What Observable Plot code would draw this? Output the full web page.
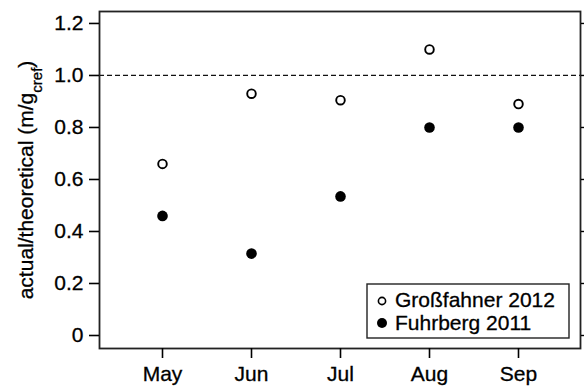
<!DOCTYPE html>
<html><head><meta charset="utf-8">
<script src="https://cdn.jsdelivr.net/npm/d3@7"></script>
<script src="https://cdn.jsdelivr.net/npm/@observablehq/plot@0.6"></script>
<style>body{margin:0;background:#fff}</style>
</head><body><div id="chart"></div>
<script>
const months = ["May","Jun","Jul","Aug","Sep"];
const grossfahner = [0.66, 0.93, 0.905, 1.10, 0.89];
const fuhrberg = [0.46, 0.315, 0.535, 0.80, 0.80];
const yTicks = [0, 0.2, 0.4, 0.6, 0.8, 1.0, 1.2];
const refLine = [1.0];
const seriesNames = ["Großfahner 2012", "Fuhrberg 2011"];

const data = [
  ...months.map((m,i)=>({month:m, v:grossfahner[i], s:seriesNames[0]})),
  ...months.map((m,i)=>({month:m, v:fuhrberg[i], s:seriesNames[1]}))
];
const font = "Liberation Sans, Arial, Helvetica, sans-serif";
const plot = Plot.plot({
  width: 584, height: 388,
  marginLeft: 99, marginRight: 4, marginTop: 11, marginBottom: 40,
  style: {fontFamily: font, fontSize: "21px", color: "#000", background: "#fff"},
  x: {type: "point", domain: months, padding: 0.7, label: null},
  y: {domain: [-0.05, 1.246], label: null},
  marks: [
    Plot.ruleY(refLine, {stroke: "#111", strokeWidth: 1.3, strokeDasharray: "5,3"}),
    Plot.frame({stroke: "#222", strokeWidth: 1.8}),
    Plot.axisY(yTicks, {anchor: "left", tickSize: 10, tickPadding: 6, strokeWidth: 1.6, fontSize: 21,
      tickFormat: d => d === 0 ? "0" : d.toFixed(1)}),
    Plot.axisY(yTicks, {anchor: "right", tickSize: 4, tickFormat: () => "", strokeWidth: 1.4}),
    Plot.axisX(months, {anchor: "bottom", tickSize: 10, tickPadding: 8, strokeWidth: 1.6, fontSize: 21}),
    Plot.dot(data.filter(d=>d.s===seriesNames[1]), {x:"month", y:"v", r:5.3, fill:"#000", stroke:"none"}),
    Plot.dot(data.filter(d=>d.s===seriesNames[0]), {x:"month", y:"v", r:4.3, fill:"#fff", stroke:"#000", strokeWidth:1.9})
  ]
});
document.getElementById("chart").appendChild(plot);

const svg = d3.select(plot);
svg.selectAll('g[aria-label$="tick label"] text')
  .attr("font-size", 21).style("font-size", "21px").attr("fill", "#000")
  .attr("stroke", "#000").attr("stroke-width", 0.3);

// y-axis label with subscript
const lab = svg.append("text")
  .attr("transform", "translate(33,180) rotate(-90)")
  .attr("text-anchor", "middle")
  .style("font-family", font).style("font-size", "21px").attr("fill", "#000")
  .attr("stroke", "#000").attr("stroke-width", 0.3);
lab.append("tspan").text("actual/theoretical (m/g");
lab.append("tspan").attr("baseline-shift", "sub").style("font-size", "15px").text("cref");
lab.append("tspan").text(")");

// legend
const lg = svg.append("g").style("font-family", font).style("font-size", "21px").attr("text-anchor", "start");
lg.append("rect").attr("x", 367).attr("y", 284).attr("width", 202).attr("height", 54)
  .attr("fill", "#fff").attr("stroke", "#222").attr("stroke-width", 1.4);
lg.append("circle").attr("cx", 382).attr("cy", 301).attr("r", 3.6).attr("fill", "#fff").attr("stroke", "#000").attr("stroke-width", 1.6);
lg.append("text").attr("x", 395).attr("y", 307).attr("fill", "#000").attr("stroke", "#000").attr("stroke-width", 0.3).text(seriesNames[0]);
lg.append("circle").attr("cx", 382).attr("cy", 323).attr("r", 5).attr("fill", "#000");
lg.append("text").attr("x", 395).attr("y", 330).attr("fill", "#000").attr("stroke", "#000").attr("stroke-width", 0.3).text(seriesNames[1]);
</script></body></html>
